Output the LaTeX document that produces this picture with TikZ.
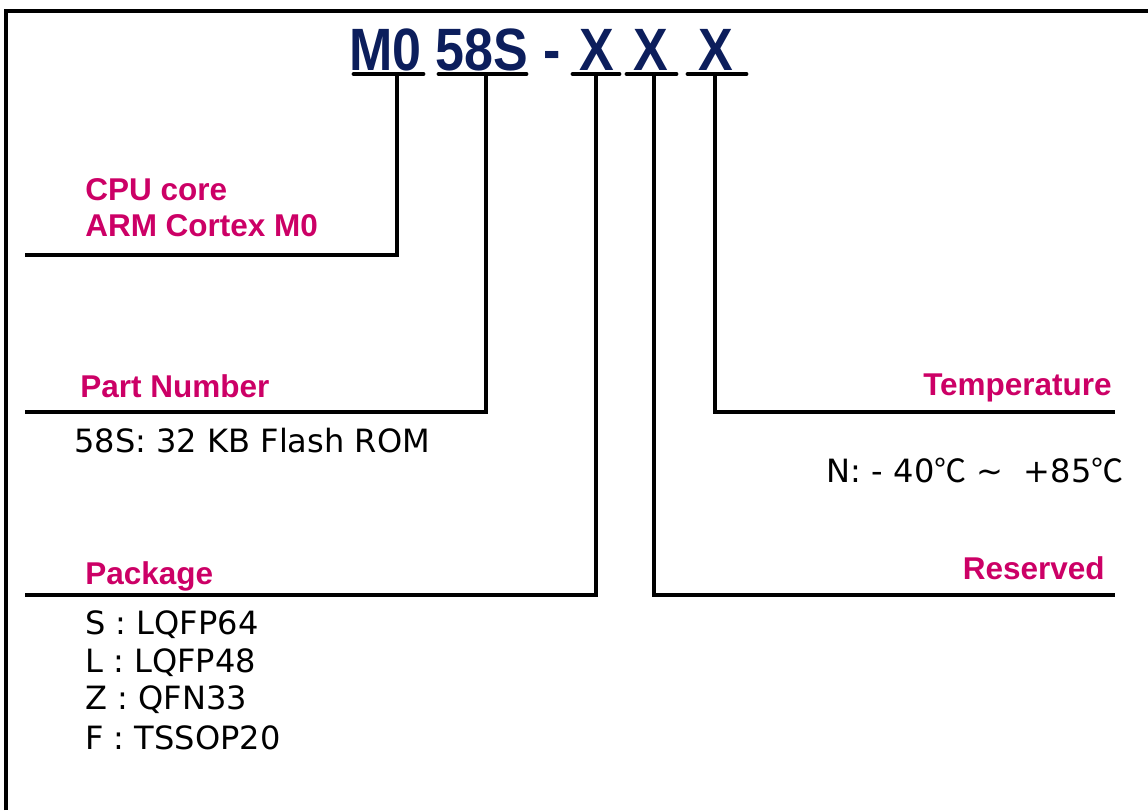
\documentclass[tikz,border=0pt]{standalone}
\usepackage{fontspec}
\setmainfont{DejaVu Sans}
\newfontfamily\lsans{Liberation Sans}
\newfontfamily\cjkfont{Noto Sans CJK SC}
\newcommand\degc{{\cjkfont ℃}}
\newcommand\narrow[1]{\scalebox{0.87}[1]{#1}}
\definecolor{partpink}{RGB}{204,0,102}
\definecolor{partnavy}{RGB}{12,30,92}

\begin{document}
\begin{tikzpicture}[x=0.025cm,y=-0.025cm,
  code/.style={font=\lsans\bfseries\fontsize{42.5}{46}\selectfont,text=partnavy,inner sep=0},
  hd/.style={font=\lsans\bfseries\fontsize{22.4}{26}\selectfont,text=partpink,inner sep=0},
  txt/.style={font=\fontsize{22.8}{27}\selectfont,inner sep=0},
  bar/.style={line width=3.5pt,line cap=round},
  lead/.style={line width=2.2pt}]
\useasboundingbox (0,0) rectangle (1148,810);
\draw[line width=2.2pt] (6,810) -- (6,11) -- (1148,11);
% part code
\node[code,anchor=base west] (m0) at (349,70) {\narrow{M0}};
\node[code,anchor=base west] (pn) at (435,70) {\narrow{58S}};
\node[code,anchor=base west] (dash) at (543,70) {\narrow{-}};
\node[code,anchor=base] (x1) at (597,70) {\narrow{X}};
\node[code,anchor=base] (x2) at (651,70) {\narrow{X}};
\node[code,anchor=base] (x3) at (716,70) {\narrow{X}};
% bars under the fields
\draw[bar] (354,74) -- (423,74);
\draw[bar] (439,74) -- (526,74);
\draw[bar] (573,74) -- (619,74);
\draw[bar] (627,74) -- (676,74);
\draw[bar] (688,74) -- (746,74);
\coordinate (cpu) at (25,255);
\coordinate (num) at (25,412);
\coordinate (pkg) at (25,595);
\coordinate (rsv) at (1115,595);
\coordinate (tmp) at (1115,412);
\draw[lead] (397,76) |- (cpu);
\draw[lead] (486,76) |- (num);
\draw[lead] (596,76) |- (pkg);
\draw[lead] (654,76) |- (rsv);
\draw[lead] (715,76) |- (tmp);
% labels
\node[hd,anchor=base west] (cpuhd) at (85,200) {CPU core};
\node[hd,anchor=base west] (armhd) at (85,236) {ARM Cortex M0};
\node[hd,anchor=base west] (numhd) at (80,397) {Part Number};
\node[txt,anchor=base west] (numtx) at (74,452) {58S: 32 KB Flash ROM};
\node[hd,anchor=base east] (tmphd) at (1112,395) {Temperature};
\node[txt,anchor=base east] (tmptx) at (1124,482) {N: - 40\degc{} \textasciitilde{} \ +85\degc};
\node[hd,anchor=base west] (pkghd) at (85,584) {Package};
\node[hd,anchor=base east] (rsvhd) at (1105,579) {Reserved};
\node[txt,anchor=base west] (p1) at (85,634) {S : LQFP64};
\node[txt,anchor=base west] (p2) at (85,672) {L : LQFP48};
\node[txt,anchor=base west] (p3) at (85,709) {Z : QFN33};
\node[txt,anchor=base west] (p4) at (85,749) {F : TSSOP20};
\end{tikzpicture}
\end{document}
